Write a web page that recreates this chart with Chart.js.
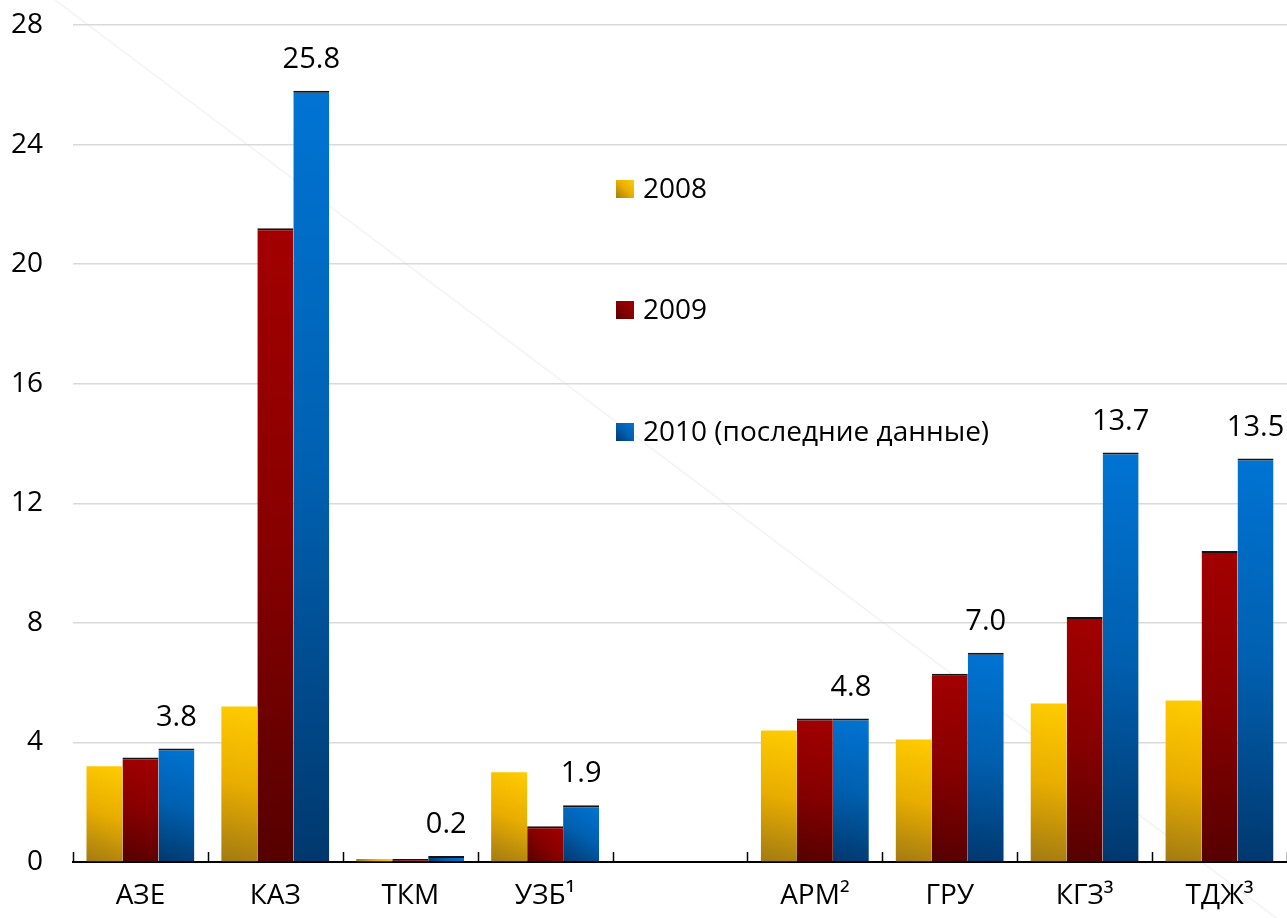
<!DOCTYPE html>
<html lang="ru">
<head>
<meta charset="UTF-8">
<title>Chart</title>
<script src="https://cdn.jsdelivr.net/npm/chart.js"></script>
<style>
  html, body { margin: 0; padding: 0; background: #fff; }
  #wrap { width: 1287px; height: 918px; }
</style>
</head>
<body>
<div id="wrap"><canvas id="barChart" width="1287" height="918"></canvas></div>
<script>
// data
const categories = ['АЗЕ', 'КАЗ', 'ТКМ', 'УЗБ¹', '', 'АРМ²', 'ГРУ', 'КГЗ³', 'ТДЖ³'];
const values2008 = [3.2, 5.2, 0.1, 3.0, null, 4.4, 4.1, 5.3, 5.4];
const values2009 = [3.5, 21.2, 0.1, 1.2, null, 4.8, 6.3, 8.2, 10.4];
const values2010 = [3.8, 25.8, 0.2, 1.9, null, 4.8, 7.0, 13.7, 13.5];
const seriesLabels = ['2008', '2009', '2010 (последние данные)'];
const yTicks = [0, 4, 8, 12, 16, 20, 24, 28];

// bright / mid / dark for each series
const palette = [
  ['#ffcc00', '#e8ad00', '#a27a12'],
  ['#a30000', '#880000', '#560000'],
  ['#0074d4', '#0060b0', '#00386e']
];

const FONT = '"Open Sans", "Noto Sans", sans-serif';
const catPct = 0.8;

function barGradient(ctx, colors) {
  const chart = ctx.chart;
  const xs = chart.scales.x, ys = chart.scales.y;
  const v = ctx.raw;
  if (!chart.chartArea || !xs || !ys || v == null) return colors[0];
  const groupW = (xs.width / categories.length) * catPct;
  const barW = groupW / 3;
  const left = xs.getPixelForValue(ctx.dataIndex) - groupW / 2 + ctx.datasetIndex * barW;
  const top = ys.getPixelForValue(v);
  const bottom = ys.getPixelForValue(0);
  const g = chart.ctx.createLinearGradient(left, bottom, left + barW, top);
  g.addColorStop(0, colors[2]);
  g.addColorStop(0.5, colors[1]);
  g.addColorStop(1, colors[0]);
  return g;
}

// faint diagonal line behind the chart
const backdrop = {
  id: 'backdrop',
  beforeDraw(chart) {
    const c = chart.ctx;
    c.save();
    c.strokeStyle = '#f0f4f0';
    c.lineWidth = 1.5;
    c.beginPath();
    c.moveTo(55, 0);
    c.lineTo(1287, 926);
    c.stroke();
    c.restore();
  }
};

// inward tick marks at category boundaries, value labels, legend
const extras = {
  id: 'extras',
  afterDatasetsDraw(chart) {
    const c = chart.ctx;
    const xs = chart.scales.x;
    const bottom = chart.chartArea.bottom;
    c.save();
    c.strokeStyle = '#000';
    c.lineWidth = 1.5;
    const step = xs.width / categories.length;
    for (let i = 0; i <= categories.length; i++) {
      const px = Math.round(xs.left + i * step) + 0.5;
      c.beginPath();
      c.moveTo(px, bottom - 10);
      c.lineTo(px, bottom);
      c.stroke();
    }

    // labels above 2010 bars
    const meta = chart.getDatasetMeta(2);
    c.fillStyle = '#000';
    c.font = '29px ' + FONT;
    c.textAlign = 'center';
    c.textBaseline = 'middle';
    meta.data.forEach((bar, i) => {
      const v = values2010[i];
      if (v == null) return;
      c.fillText(v.toFixed(1), bar.x, bar.y - 31);
    });
    c.restore();
  },
  afterDraw(chart) {
    const c = chart.ctx;
    const area = chart.chartArea;
    const lx = area.left + 543;
    const rows = [189, 310, 432];
    c.save();
    c.font = '28px ' + FONT;
    c.textAlign = 'left';
    c.textBaseline = 'middle';
    chart.data.datasets.forEach((ds, i) => {
      const y = rows[i];
      const g = c.createLinearGradient(lx, y + 9, lx + 18, y - 9);
      g.addColorStop(0, palette[i][2]);
      g.addColorStop(0.5, palette[i][1]);
      g.addColorStop(1, palette[i][0]);
      c.fillStyle = g;
      c.fillRect(lx, y - 9, 18, 18);
      c.fillStyle = '#000';
      c.fillText(ds.label, lx + 27, y + 1);
    });
    c.restore();
  }
};

const seriesData = [values2008, values2009, values2010];

new Chart(document.getElementById('barChart'), {
  type: 'bar',
  data: {
    labels: categories,
    datasets: seriesData.map((vals, i) => ({
      label: seriesLabels[i],
      data: vals,
      backgroundColor: ctx => barGradient(ctx, palette[i]),
      borderColor: i === 0 ? 'rgba(0,0,0,0)' : '#141414',
      borderWidth: i === 0 ? 0 : { top: 2, left: 0, right: 0, bottom: 0 },
      borderSkipped: 'bottom',
      categoryPercentage: catPct,
      barPercentage: 1.0
    }))
  },
  options: {
    responsive: false,
    devicePixelRatio: 1,
    animation: false,
    layout: { padding: { top: 25, right: 0, bottom: 0, left: 0 } },
    plugins: {
      legend: { display: false },
      tooltip: { enabled: false }
    },
    scales: {
      x: {
        grid: { display: false },
        border: { display: true, color: '#000', width: 2 },
        ticks: {
          color: '#000',
          font: { family: FONT, size: 28 },
          padding: 9,
          maxRotation: 0,
          autoSkip: false
        },
        afterFit(scale) { scale.height = 56; }
      },
      y: {
        min: 0,
        max: 28,
        afterBuildTicks(scale) { scale.ticks = yTicks.map(v => ({ value: v })); },
        grid: { color: '#d9d9d9', lineWidth: 1.5, drawTicks: false },
        border: { display: false },
        ticks: {
          color: '#000',
          font: { family: FONT, size: 28 },
          padding: 30
        },
        afterFit(scale) {
          scale.width = 73;
          // keep the tick padding from pushing the plot down
          scale.paddingTop = 10;
          scale.paddingBottom = 10;
        }
      }
    }
  },
  plugins: [backdrop, extras]
});
</script>
</body>
</html>
